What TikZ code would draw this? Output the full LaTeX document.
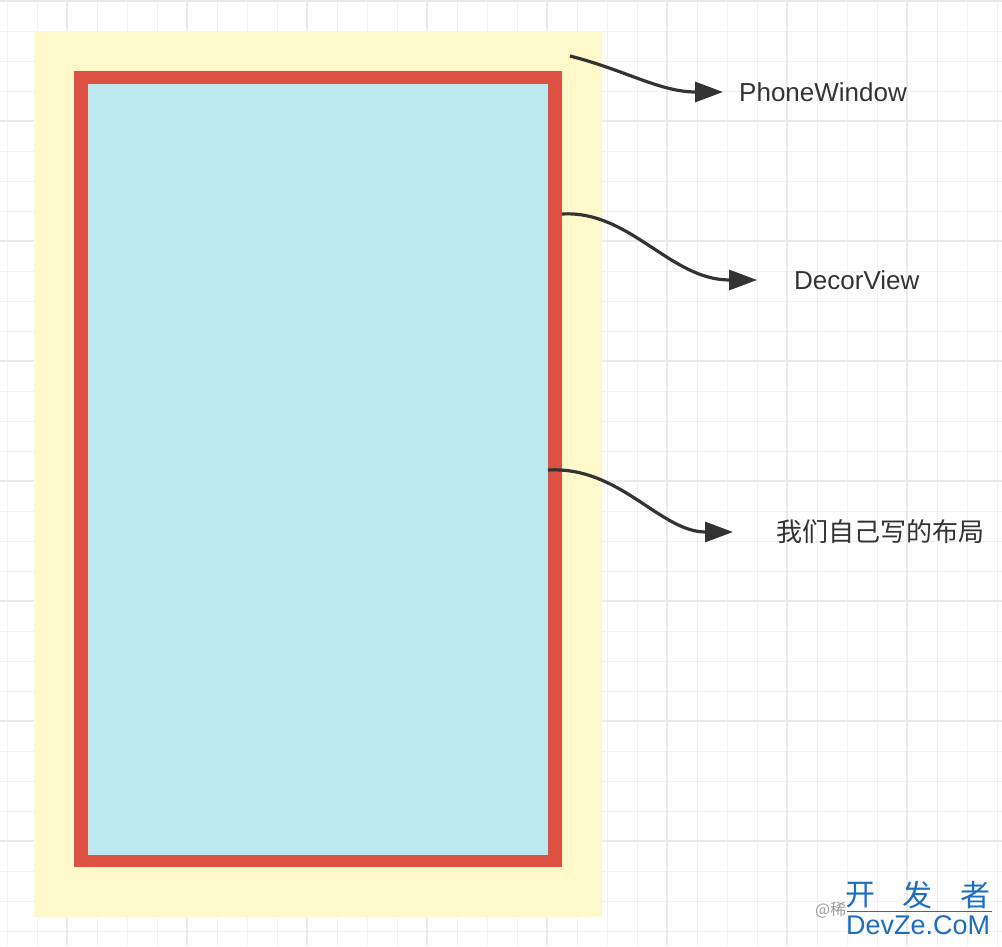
\documentclass[tikz,border=0pt]{standalone}
\usepackage{fontspec}
\setmainfont{Liberation Sans}
\newfontfamily\cjk{Noto Sans CJK SC}
\usetikzlibrary{arrows.meta}
\definecolor{gridc}{HTML}{F1F1F1}
\definecolor{gridmaj}{HTML}{EAEAEA}
\definecolor{yellowc}{HTML}{FFF8CB}
\definecolor{redc}{HTML}{DD5143}
\definecolor{bluec}{HTML}{BEE8EF}
\definecolor{inkc}{HTML}{333333}
\definecolor{wmblue}{HTML}{1C6EBF}
\definecolor{wmgray}{HTML}{9A9A9A}
\begin{document}
\begin{tikzpicture}[x=1pt,y=-1pt,
  minorline/.style={draw=gridc,line width=1pt},
  majorline/.style={draw=gridmaj,line width=1.6pt},
  box/.style={inner sep=0pt,outer sep=0pt,anchor=north west},
  lbl/.style={inner sep=0pt,anchor=west,text=inkc,font=\fontsize{26}{30}\selectfont},
  conn/.style={draw=inkc,line width=3.2pt,-{Triangle[length=28pt,width=20pt]}},
  wm/.style={inner sep=0pt,text=wmblue}]
\useasboundingbox (0,0) rectangle (1002,946);
\fill[white] (0,0) rectangle (1002,946);
\foreach \x in {7,37,...,1000} \draw[minorline] (\x,0) -- (\x,946);
\foreach \y in {1,31,...,946} \draw[minorline] (0,\y) -- (1002,\y);
\foreach \x in {67,187,...,1000} \draw[majorline] (\x,0) -- (\x,946);
\foreach \y in {1,121,...,946} \draw[majorline] (0,\y) -- (1002,\y);
% boxes
\node[box,fill=yellowc,minimum width=568pt,minimum height=886pt] (window) at (34,31) {};
\node[box,fill=redc,minimum width=488pt,minimum height=796pt] (decor) at (74,71) {};
\node[box,fill=bluec,minimum width=460pt,minimum height=771pt] (content) at (88,84) {};
% labels
\node[lbl] (pw) at (739,92) {PhoneWindow};
\node[lbl] (dv) at (794,280) {DecorView};
\node[lbl,font=\cjk\fontsize{26}{30}\selectfont] (my) at (776,532) {我们自己写的布局};
% connector start points
\coordinate (s1) at (570,56);
\coordinate (s2) at (562,214);
\coordinate (s3) at (548,470);
\draw[conn] (s1) .. controls (625,70) and (660,92) .. ([xshift=-16pt]pw.west);
\draw[conn] (s2) .. controls (630,210) and (670,280) .. ([xshift=-37pt]dv.west);
\draw[conn] (s3) .. controls (620,466) and (660,532) .. ([xshift=-43pt]my.west);
% watermark
\begin{scope}
\clip (805,895) rectangle (847,925);
\node[inner sep=0pt,anchor=west,text=wmgray,font=\cjk\fontsize{16}{18}\selectfont] (wmat) at (815,910) {@稀};
\end{scope}
\node[wm,anchor=west,font=\cjk\fontsize{30}{32}\selectfont] (wk) at (845,895) {开};
\node[wm,anchor=west,font=\cjk\fontsize{30}{32}\selectfont] (wf) at (902,895) {发};
\node[wm,anchor=west,font=\cjk\fontsize{30}{32}\selectfont] (wz) at (960,895) {者};
\coordinate (ul1) at (847,911);
\coordinate (ul2) at (992,911);
\draw[wmblue,line width=0.8pt] (ul1) -- (ul2);
\node[wm,anchor=west,font=\fontsize{27}{30}\selectfont] (wd) at (846,925) {DevZe.CoM};
\end{tikzpicture}
\end{document}
